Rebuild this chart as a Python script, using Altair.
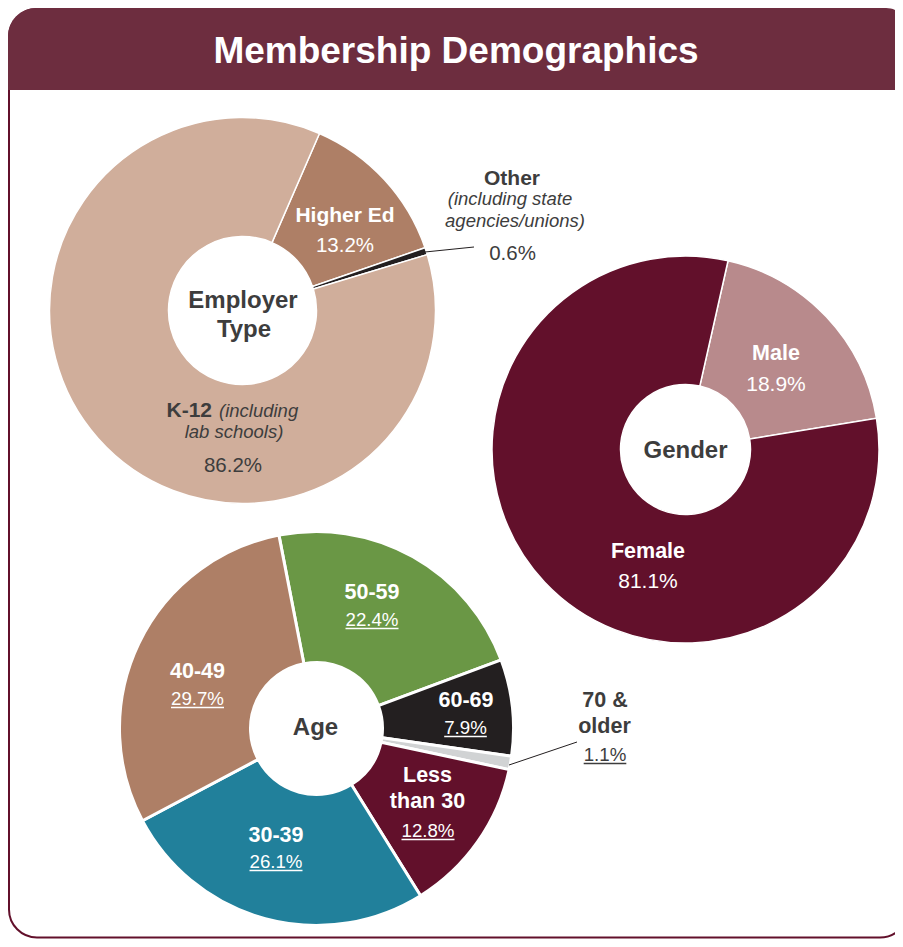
import math
import altair as alt
import pandas as pd

# ---------------- data ----------------
employer_cats = ["Higher Ed", "Other", "K-12"]
employer_vals = [13.2, 0.6, 86.2]
employer_colors = ["#AE7F66", "#231F20", "#D0AE9B"]

gender_cats = ["Male", "Female"]
gender_vals = [18.9, 81.1]
gender_colors = ["#B88A8C", "#62102B"]

age_cats = ["50-59", "60-69", "70 & older", "Less than 30", "30-39", "40-49"]
age_vals = [22.4, 7.9, 1.1, 12.8, 26.1, 29.7]
age_colors = ["#6A9745", "#231F20", "#D1D3D4", "#62102B", "#21809B", "#AE7F66"]

title_text = "Membership Demographics"

# ---------------- layout ----------------
W, H = 887, 931
OFF = 8  # page margin: picture coords -> chart coords
FONT = "Liberation Sans, Arial, Helvetica, sans-serif"
DARK = "#3D3D3D"
WHITE = "#FFFFFF"
HEADER = "#6D2D3F"
BORDER = "#62102B"

dummy = pd.DataFrame({"a": [0]})


def pct(v):
    return f"{v:.1f}%"


def donut(cats, vals, colors, cx, cy, r_out, r_in, start_deg, sw):
    df = pd.DataFrame({"cat": cats, "val": vals, "idx": list(range(len(cats)))})
    s = math.radians(start_deg)
    return alt.Chart(df).mark_arc(
        outerRadius=r_out, innerRadius=r_in, stroke="white", strokeWidth=sw
    ).encode(
        x=alt.value(cx - OFF),
        y=alt.value(cy - OFF),
        theta=alt.Theta("val:Q", stack=True, scale=alt.Scale(range=[s, s + 2 * math.pi])),
        color=alt.Color("cat:N", scale=alt.Scale(domain=cats, range=colors), legend=None),
        order=alt.Order("idx:Q"),
    )


def labels(rows, size, weight="normal", style="normal", color=DARK, align="center"):
    df = pd.DataFrame(rows, columns=["t", "x", "y"])
    df["x"] = df["x"] - OFF
    df["y"] = df["y"] - OFF
    return alt.Chart(df).mark_text(
        font=FONT, fontSize=size, fontWeight=weight, fontStyle=style,
        color=color, align=align, baseline="alphabetic"
    ).encode(
        x=alt.X("x:Q", scale=None, axis=None),
        y=alt.Y("y:Q", scale=None, axis=None),
        text="t:N",
    )


def rule(x1, y1, x2, y2, color, sw):
    return alt.Chart(dummy).mark_rule(color=color, strokeWidth=sw).encode(
        x=alt.value(x1 - OFF), y=alt.value(y1 - OFF),
        x2=alt.value(x2 - OFF), y2=alt.value(y2 - OFF),
    )


# Arial advance widths for underline lengths
ADV = {".": 0.278, "%": 0.889}


def text_width(s, size):
    return size * sum(ADV.get(c, 0.556) for c in s)


def underline(s, cx, base, size, color):
    w = text_width(s, size)
    return rule(cx - w / 2, base + 2.5, cx + w / 2, base + 2.5, color, 1.3)


# ---------------- frame ----------------
border = alt.Chart(dummy).mark_rect(
    fillOpacity=0, stroke=BORDER, strokeWidth=2, cornerRadius=28
).encode(x=alt.value(1), x2=alt.value(900), y=alt.value(1), y2=alt.value(929.5))

header = alt.Chart(dummy).mark_rect(
    color=HEADER, cornerRadiusTopLeft=28, cornerRadiusTopRight=22
).encode(x=alt.value(0), x2=alt.value(900), y=alt.value(0), y2=alt.value(82))

title = labels([(title_text, 456, 63)], 37, weight="bold", color=WHITE)

# ---------------- donuts ----------------
d_emp = donut(employer_cats, employer_vals, employer_colors, 242.5, 310.5, 193, 74, 23.5, 1.5)
d_gen = donut(gender_cats, gender_vals, gender_colors, 685.5, 449.5, 193.5, 65, 12.7, 1.5)
d_age = donut(age_cats, age_vals, age_colors, 316.5, 728.5, 197, 66, -11, 3)

leaders = [
    rule(425, 252, 474, 247, "#231F20", 1),
    rule(509, 765, 577, 742, "#231F20", 1),
]

# ---------------- text ----------------
e_pct = dict(zip(employer_cats, employer_vals))
g_pct = dict(zip(gender_cats, gender_vals))
a_pct = dict(zip(age_cats, age_vals))

texts = [
    # employer type
    labels([("Other", 512, 185)], 21, weight="bold"),
    labels([("(including state", 510, 205), ("agencies/unions)", 515, 227)], 18.5, style="italic"),
    labels([(pct(e_pct["Other"]), 512.5, 260)], 20.5),
    labels([("Higher Ed", 345, 222)], 21, weight="bold", color=WHITE),
    labels([(pct(e_pct["Higher Ed"]), 345, 252)], 20.5, color=WHITE),
    labels([("Employer", 243, 308), ("Type", 244, 337)], 24, weight="bold"),
    labels([("K-12", 212, 417)], 21, weight="bold", align="right"),
    labels([("(including", 219, 417)], 18.5, style="italic", align="left"),
    labels([("lab schools)", 234, 438)], 18.5, style="italic"),
    labels([(pct(e_pct["K-12"]), 233, 472)], 20.5),
    # gender
    labels([("Male", 776, 360), ("Female", 648, 558)], 21.5, weight="bold", color=WHITE),
    labels([(pct(g_pct["Male"]), 776, 391), (pct(g_pct["Female"]), 648, 588)], 21, color=WHITE),
    labels([("Gender", 685.5, 458)], 24, weight="bold"),
    # age
    labels([("50-59", 372, 599), ("40-49", 197.5, 678), ("60-69", 466, 707),
            ("Less", 427.5, 782), ("than 30", 427.5, 808), ("30-39", 276, 842)],
           21.5, weight="bold", color=WHITE),
    labels([("70 &", 605, 707), ("older", 604.5, 733)], 21.5, weight="bold"),
    labels([("Age", 315.5, 735)], 24, weight="bold"),
]

age_pct_pos = {
    "50-59": (372, 626),
    "40-49": (197.5, 705),
    "60-69": (465.5, 734),
    "Less than 30": (428, 837),
    "30-39": (276, 868),
}
age_pct_rows = [(pct(a_pct[k]), x, y) for k, (x, y) in age_pct_pos.items()]
texts.append(labels(age_pct_rows, 18.7, color=WHITE))
unders = [underline(t, x, y, 18.7, WHITE) for t, x, y in age_pct_rows]

old_t = pct(a_pct["70 & older"])
texts.append(labels([(old_t, 605, 761)], 18.7))
unders.append(underline(old_t, 605, 761, 18.7, "#3D3D3D"))

chart = alt.layer(
    border, header, title, d_emp, d_gen, d_age, *leaders, *texts, *unders
).resolve_scale(
    theta="independent", color="independent"
).properties(
    width=W, height=H, padding=0, autosize=alt.AutoSizeParams(type="none"),
    background="white",
).configure_view(stroke=None)

chart.save("out.html", embed_options={"renderer": "svg", "actions": False})
